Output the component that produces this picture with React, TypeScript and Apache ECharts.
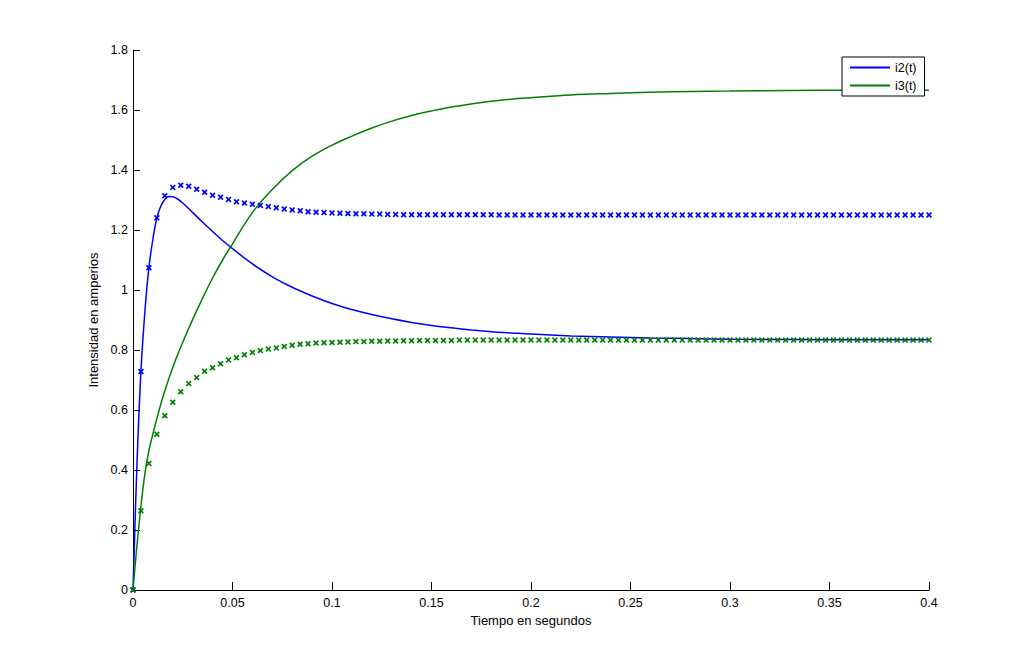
import React, { useEffect, useRef } from "react";
import * as echarts from "echarts";

// Time grid of the continuous curves (seconds)
const lineT = [
  0, 0.002, 0.004, 0.006, 0.008, 0.01, 0.012, 0.014, 0.016, 0.018, 0.02, 0.022, 0.025,
  0.03, 0.035, 0.04, 0.045, 0.05, 0.06, 0.07, 0.08, 0.09, 0.1, 0.11, 0.12, 0.13, 0.14,
  0.15, 0.16, 0.17, 0.18, 0.19, 0.2, 0.22, 0.24, 0.26, 0.28, 0.3, 0.33, 0.36, 0.4,
];
// i2(t) solid blue
const i2Line = [
  0, 0.42, 0.73, 0.93, 1.075, 1.17, 1.24, 1.28, 1.302, 1.312, 1.311, 1.305, 1.29,
  1.258, 1.226, 1.195, 1.165, 1.138, 1.087, 1.044, 1.009, 0.98, 0.955, 0.935, 0.918, 0.904, 0.892,
  0.882, 0.874, 0.867, 0.861, 0.857, 0.853, 0.847, 0.843, 0.84, 0.838, 0.836, 0.835, 0.834, 0.834,
];
// i3(t) solid green
const i3Line = [
  0, 0.15, 0.28, 0.389, 0.465, 0.52, 0.572, 0.62, 0.664, 0.704, 0.742, 0.777, 0.826,
  0.902, 0.973, 1.04, 1.1, 1.154, 1.258, 1.335, 1.398, 1.446, 1.483, 1.513, 1.54, 1.563, 1.582,
  1.597, 1.61, 1.62, 1.629, 1.636, 1.641, 1.65, 1.655, 1.659, 1.662, 1.663, 1.665, 1.666, 1.666,
];

// Sampled solutions drawn with "x" markers, one every markerStep seconds
const markerStep = 0.004;
const i2Marks = [
  0, 0.728, 1.074, 1.241, 1.314, 1.342, 1.349, 1.346, 1.336, 1.326,
  1.316, 1.309, 1.302, 1.294, 1.29, 1.286, 1.282, 1.278, 1.274, 1.27,
  1.267, 1.264, 1.261, 1.259, 1.258, 1.257, 1.256, 1.255, 1.254, 1.254,
  1.253, 1.253, 1.252, 1.252, 1.251, 1.251, 1.251, 1.251, 1.251, 1.251,
  1.251, 1.251, 1.251, 1.251, 1.251, 1.251, 1.25, 1.25, 1.25, 1.25,
  1.25, 1.25, 1.25, 1.25, 1.25, 1.25, 1.25, 1.25, 1.25, 1.25,
  1.25, 1.25, 1.25, 1.25, 1.25, 1.25, 1.25, 1.25, 1.25, 1.25,
  1.25, 1.25, 1.25, 1.25, 1.25, 1.25, 1.25, 1.25, 1.25, 1.25,
  1.25, 1.25, 1.25, 1.25, 1.25, 1.25, 1.25, 1.25, 1.25, 1.25,
  1.25, 1.25, 1.25, 1.25, 1.25, 1.25, 1.25, 1.25, 1.25, 1.25,
  1.25,
];
const i3Marks = [
  0, 0.264, 0.422, 0.519, 0.581, 0.626, 0.661, 0.688, 0.708, 0.729,
  0.741, 0.754, 0.767, 0.774, 0.784, 0.792, 0.798, 0.803, 0.807, 0.812,
  0.816, 0.819, 0.821, 0.823, 0.824, 0.825, 0.826, 0.827, 0.828, 0.828,
  0.829, 0.829, 0.83, 0.83, 0.831, 0.831, 0.832, 0.832, 0.832, 0.832,
  0.832, 0.833, 0.833, 0.833, 0.833, 0.833, 0.833, 0.833, 0.833, 0.833,
  0.833, 0.833, 0.833, 0.833, 0.833, 0.833, 0.833, 0.833, 0.833, 0.833,
  0.833, 0.833, 0.833, 0.833, 0.833, 0.833, 0.833, 0.833, 0.833, 0.833,
  0.833, 0.833, 0.833, 0.833, 0.833, 0.833, 0.833, 0.833, 0.833, 0.833,
  0.833, 0.833, 0.833, 0.833, 0.833, 0.833, 0.833, 0.833, 0.833, 0.833,
  0.833, 0.833, 0.833, 0.833, 0.833, 0.833, 0.833, 0.833, 0.833, 0.833,
  0.833,
];

const xTickLabels = ["0", "0.05", "0.1", "0.15", "0.2", "0.25", "0.3", "0.35", "0.4"];
const yTickLabels = ["0", "0.2", "0.4", "0.6", "0.8", "1", "1.2", "1.4", "1.6", "1.8"];
const seriesNames = ["i2(t)", "i3(t)"];
const xName = "Tiempo en segundos";
const yName = "Intensidad en amperios";

const BLUE = "#0000ff";
const GREEN = "#008000";
const FONT = "'Liberation Sans', Arial, sans-serif";
const XMARK = "path://M0,2L2,0L5,3L8,0L10,2L7,5L10,8L8,10L5,7L2,10L0,8L3,5Z";

export default function App() {
  const ref = useRef<HTMLDivElement>(null);
  useEffect(() => {
    if (!ref.current) return;
    const chart = echarts.init(ref.current, undefined, { renderer: "svg" });
    const pairs = (xs: number[], ys: number[]) => xs.map((x, i) => [x, ys[i]]);
    const marks = (ys: number[]) => ys.map((y, i) => [Number((i * markerStep).toFixed(4)), y]);
    chart.setOption({
      animation: false,
      backgroundColor: "#ffffff",
      textStyle: { fontFamily: FONT },
      grid: { left: 133, top: 50, right: 96, bottom: 74, containLabel: false },
      legend: {
        data: seriesNames,
        orient: "vertical",
        left: 842,
        top: 57,
        padding: [4, 8, 4, 7],
        itemGap: 5,
        itemWidth: 40,
        itemHeight: 14,
        backgroundColor: "#ffffff",
        borderColor: "#000000",
        borderWidth: 1,
        borderRadius: 0,
        itemStyle: { opacity: 0 },
        textStyle: { fontFamily: FONT, fontSize: 12.5, color: "#000" },
      },
      xAxis: {
        type: "value",
        min: 0,
        max: 0.4,
        interval: 0.05,
        name: xName,
        nameLocation: "middle",
        nameGap: 22,
        nameTextStyle: { fontFamily: FONT, fontSize: 13, color: "#000" },
        axisLine: { show: true, onZero: false, lineStyle: { color: "#000", width: 1 } },
        axisTick: { show: true, inside: true, length: 8, lineStyle: { color: "#000" } },
        axisLabel: {
          fontFamily: FONT,
          fontSize: 12.5,
          color: "#000",
          margin: 6,
          formatter: (v: number) => xTickLabels[Math.round(v / 0.05)] ?? "",
        },
        splitLine: { show: false },
      },
      yAxis: {
        type: "value",
        min: 0,
        max: 1.8,
        interval: 0.2,
        name: yName,
        nameLocation: "middle",
        nameGap: 30,
        nameTextStyle: { fontFamily: FONT, fontSize: 13, color: "#000" },
        axisLine: { show: true, onZero: false, lineStyle: { color: "#000", width: 1 } },
        axisTick: { show: true, inside: true, length: 7, lineStyle: { color: "#000" } },
        axisLabel: {
          fontFamily: FONT,
          fontSize: 12.5,
          color: "#000",
          margin: 5,
          formatter: (v: number) => yTickLabels[Math.round(v / 0.2)] ?? "",
        },
        splitLine: { show: false },
      },
      series: [
        {
          name: seriesNames[0],
          type: "line",
          data: pairs(lineT, i2Line),
          smooth: 0.4,
          symbol: "none",
          lineStyle: { color: BLUE, width: 1.5 },
          itemStyle: { color: BLUE },
          z: 2,
        },
        {
          name: seriesNames[1],
          type: "line",
          data: pairs(lineT, i3Line),
          smooth: 0.4,
          symbol: "none",
          lineStyle: { color: GREEN, width: 1.5 },
          itemStyle: { color: GREEN },
          z: 2,
        },
        {
          name: "i2 marks",
          type: "scatter",
          data: marks(i2Marks),
          symbol: XMARK,
          symbolSize: 6,
          itemStyle: { color: BLUE, opacity: 1 },
          z: 3,
        },
        {
          name: "i3 marks",
          type: "scatter",
          data: marks(i3Marks),
          symbol: XMARK,
          symbolSize: 6,
          itemStyle: { color: GREEN, opacity: 1 },
          z: 3,
        },
      ],
    });
    return () => chart.dispose();
  }, []);
  return (
    <div
      ref={ref}
      style={{ position: "fixed", left: 0, top: 0, width: 1025, height: 664, background: "#fff" }}
    />
  );
}
